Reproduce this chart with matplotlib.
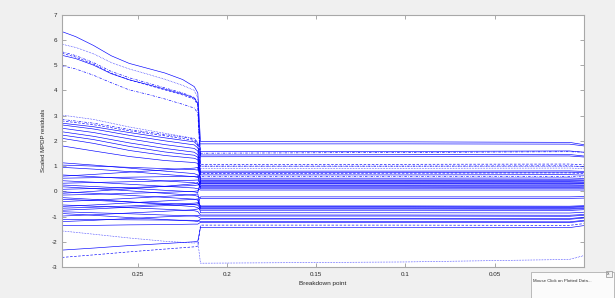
import matplotlib
matplotlib.use("Agg")
import matplotlib.pyplot as plt
from matplotlib.patches import Rectangle

plt.rcParams["axes.unicode_minus"] = False
plt.rcParams["font.family"] = ["Liberation Sans", "DejaVu Sans"]

# breakdown point grids (left part before the jump, right part after it)
x_top = [0.2927, 0.285, 0.275, 0.265, 0.255, 0.245, 0.235, 0.225, 0.2185, 0.2165]
x_left = [0.2927, 0.275, 0.255, 0.235, 0.2185, 0.2165]
x_right = [0.215, 0.1, 0.008, 0.0]

# top group (units with the largest residuals at high bdp)
top_left = [
    [6.33, 6.13, 5.78, 5.37, 5.07, 4.88, 4.69, 4.43, 4.15, 3.90],
    [5.83, 5.70, 5.45, 5.10, 4.85, 4.65, 4.44, 4.20, 4.00, 3.70],
    [5.53, 5.38, 5.10, 4.75, 4.50, 4.30, 4.10, 3.90, 3.72, 3.50],
    [5.47, 5.32, 5.04, 4.68, 4.42, 4.22, 4.02, 3.82, 3.65, 3.42],
    [5.39, 5.26, 5.00, 4.66, 4.42, 4.24, 4.05, 3.86, 3.70, 3.48],
    [4.98, 4.85, 4.60, 4.30, 4.02, 3.85, 3.66, 3.45, 3.30, 3.10],
]
top_right = [
    [1.97, 1.96, 1.94, 1.85],
    [0.91, 0.91, 0.92, 0.90],
    [1.51, 1.54, 1.57, 1.55],
    [1.07, 1.07, 1.08, 1.05],
    [1.37, 1.38, 1.40, 1.36],
    [1.00, 1.00, 1.01, 0.98],
]
top_styles = ["-", ":", "-.", "--", "-", "-."]

# group starting around 2-3
upper_left = [
    [3.02, 2.85, 2.55, 2.30, 2.10, 1.95],
    [2.85, 2.70, 2.45, 2.25, 2.08, 1.92],
    [2.79, 2.64, 2.40, 2.20, 2.02, 1.87],
    [2.70, 2.56, 2.33, 2.12, 1.96, 1.82],
    [2.63, 2.47, 2.22, 2.00, 1.84, 1.72],
    [2.50, 2.33, 2.08, 1.85, 1.70, 1.60],
    [2.36, 2.18, 1.92, 1.70, 1.55, 1.45],
    [2.23, 2.05, 1.78, 1.56, 1.43, 1.35],
    [2.10, 1.90, 1.62, 1.42, 1.31, 1.25],
    [1.80, 1.60, 1.38, 1.22, 1.14, 1.11],
]
upper_right = [
    [0.98, 0.98, 0.99, 0.97],
    [0.58, 0.58, 0.59, 0.57],
    [0.71, 0.72, 0.73, 0.71],
    [1.88, 1.88, 1.87, 1.80],
    [1.44, 1.45, 1.46, 1.40],
    [0.75, 0.75, 0.76, 0.74],
    [0.65, 0.65, 0.66, 0.64],
    [0.45, 0.45, 0.46, 0.45],
    [0.38, 0.38, 0.38, 0.37],
    [0.32, 0.32, 0.33, 0.32],
]
upper_styles = [":", "-.", "--", "-", "-", "-", "-", "-", "-", "-"]

# middle bundle, crossing between -1.4 and 1.2
mid_left = [
    [1.13, 1.04, 0.92, 0.80, 0.70, 0.65],
    [1.04, 1.00, 0.95, 0.90, 0.86, 0.84],
    [0.95, 0.88, 0.78, 0.67, 0.58, 0.55],
    [0.65, 0.58, 0.50, 0.41, 0.34, 0.30],
    [0.60, 0.67, 0.76, 0.85, 0.92, 0.95],
    [0.52, 0.54, 0.56, 0.58, 0.59, 0.60],
    [0.42, 0.36, 0.28, 0.20, 0.13, 0.10],
    [0.32, 0.35, 0.38, 0.41, 0.44, 0.45],
    [0.25, 0.19, 0.12, 0.04, -0.02, -0.05],
    [0.18, 0.11, 0.02, -0.08, -0.16, -0.20],
    [0.08, 0.11, 0.15, 0.19, 0.23, 0.25],
    [-0.02, -0.08, -0.16, -0.24, -0.31, -0.35],
    [-0.08, 0.00, 0.10, 0.20, 0.30, 0.35],
    [-0.15, -0.12, -0.08, -0.04, 0.00, 0.02],
    [-0.25, -0.32, -0.42, -0.52, -0.61, -0.65],
    [-0.32, -0.36, -0.42, -0.48, -0.53, -0.55],
    [-0.41, -0.35, -0.28, -0.20, -0.13, -0.10],
    [-0.54, -0.59, -0.65, -0.71, -0.77, -0.80],
    [-0.60, -0.54, -0.46, -0.38, -0.32, -0.30],
    [-0.67, -0.63, -0.58, -0.52, -0.47, -0.45],
    [-0.75, -0.70, -0.63, -0.57, -0.52, -0.50],
    [-0.81, -0.85, -0.89, -0.94, -0.98, -1.00],
    [-0.88, -0.95, -1.04, -1.12, -1.18, -1.20],
    [-0.98, -0.93, -0.86, -0.79, -0.73, -0.70],
    [-1.11, -1.12, -1.13, -1.14, -1.15, -1.15],
    [-1.20, -1.15, -1.08, -1.01, -0.97, -0.95],
    [-1.36, -1.35, -1.33, -1.32, -1.30, -1.30],
]
mid_right = [
    [0.25, 0.25, 0.26, 0.25],
    [1.57, 1.58, 1.60, 1.55],
    [0.80, 0.80, 0.81, 0.79],
    [0.18, 0.18, 0.18, 0.18],
    [0.52, 0.52, 0.53, 0.51],
    [0.14, 0.14, 0.15, 0.14],
    [0.05, 0.05, 0.05, 0.05],
    [0.30, 0.30, 0.31, 0.30],
    [0.42, 0.42, 0.43, 0.42],
    [-0.28, -0.28, -0.28, -0.27],
    [0.36, 0.36, 0.37, 0.36],
    [-0.61, -0.61, -0.62, -0.60],
    [0.10, 0.10, 0.10, 0.10],
    [0.22, 0.22, 0.22, 0.22],
    [-0.75, -0.75, -0.76, -0.73],
    [-0.67, -0.67, -0.68, -0.66],
    [-0.70, -0.70, -0.71, -0.69],
    [-0.94, -0.94, -0.95, -0.92],
    [-0.85, -0.85, -0.86, -0.83],
    [-0.58, -0.58, -0.59, -0.57],
    [-0.22, -0.22, -0.22, -0.21],
    [-1.07, -1.07, -1.08, -1.03],
    [-1.10, -1.10, -1.11, -1.06],
    [-0.63, -0.63, -0.64, -0.62],
    [-1.20, -1.20, -1.21, -1.15],
    [-0.98, -0.98, -0.99, -0.95],
    [-1.23, -1.23, -1.24, -1.18],
]
mid_styles = ["-"] * 27

# bottom units
low_left = [
    [-1.57, -1.70, -1.85, -1.98, -2.05, -2.00],
    [-2.33, -2.25, -2.15, -2.07, -2.00, -1.97],
    [-2.62, -2.52, -2.40, -2.29, -2.20, -2.17],
]
low_right = [
    [-2.85, -2.80, -2.70, -2.55],
    [-1.43, -1.43, -1.44, -1.36],
    [-1.34, -1.34, -1.35, -1.28],
]
low_styles = [":", "-", "--"]

x_ticks = [0.25, 0.2, 0.15, 0.1, 0.05]
y_ticks = [-3, -2, -1, 0, 1, 2, 3, 4, 5, 6, 7]

dash_map = {
    "-": "-",
    "--": (0, (4, 2.5)),
    ":": (0, (1, 1.5)),
    "-.": (0, (4, 2, 1, 2)),
}

fig = plt.figure(figsize=(6.15, 2.98), dpi=100, facecolor="#f0f0f0")
ax = fig.add_axes([62 / 615, 1 - 267 / 298, (583.7 - 62) / 615, (267 - 14.7) / 298])
ax.set_facecolor("white")

groups = [
    (x_top, top_left, top_right, top_styles),
    (x_left, upper_left, upper_right, upper_styles),
    (x_left, mid_left, mid_right, mid_styles),
    (x_left, low_left, low_right, low_styles),
]
for xs, lefts, rights, styles in groups:
    for yl, yr, st in zip(lefts, rights, styles):
        ax.plot(xs + x_right, yl + yr, color="#0000ff", lw=0.45,
                linestyle=dash_map[st])

ax.set_xlim(0.2927, 0.0)
ax.set_ylim(-3, 7)
ax.set_xticks(x_ticks)
ax.set_xticklabels([f"{t:g}" for t in x_ticks])
ax.set_yticks(y_ticks)
ax.tick_params(direction="in", top=True, right=True, length=3, width=0.6,
               color="#9a9a9a", labelsize=4.5, labelcolor="#262626", pad=3.5)
for sp in ax.spines.values():
    sp.set_color("#a8a8a8")
    sp.set_linewidth(0.8)

ax.set_xlabel("Breakdown point", fontsize=4.6, color="#262626", labelpad=3)
ax.set_ylabel("Scaled MPDP residuals", fontsize=4.3, color="#262626", labelpad=4)

# "Mouse Click on Plotted Data..." box bottom right
box = Rectangle((531 / 615, 0), (614 - 531) / 615, (298 - 271.5) / 298,
                transform=fig.transFigure, facecolor="#fbfbfb",
                edgecolor="#b0b0b0", lw=0.6)
fig.add_artist(box)
fig.text(533 / 615, 1 - 281 / 298, "Mouse Click on Plotted Data...",
         fontsize=3.2, color="#333333", va="center", ha="left")
btn = Rectangle((605.5 / 615, 1 - 276.5 / 298), 6 / 615, 5.5 / 298,
                transform=fig.transFigure, facecolor="#f4f4f4",
                edgecolor="#909090", lw=0.5)
fig.add_artist(btn)
fig.text(608.5 / 615, 1 - 273.8 / 298, "x", fontsize=3.5, color="#444444",
         ha="center", va="center")

fig.savefig("out.png", dpi=100, facecolor=fig.get_facecolor())
